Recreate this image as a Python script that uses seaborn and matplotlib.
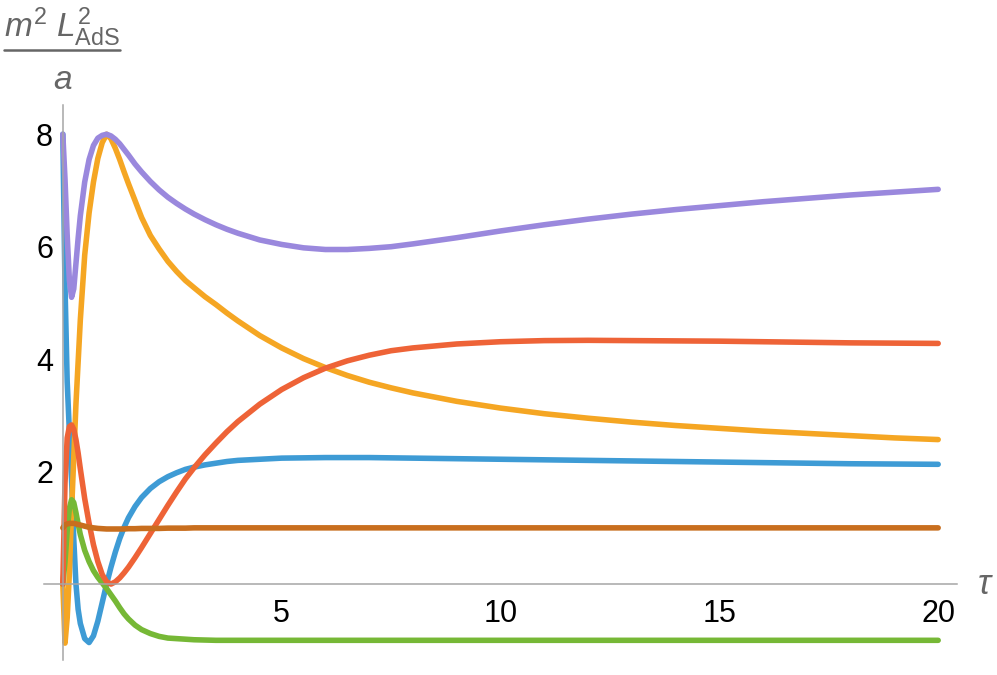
import pandas as pd
import numpy as np
import matplotlib
matplotlib.use("Agg")
import matplotlib.pyplot as plt
from matplotlib.lines import Line2D
from matplotlib.ticker import FixedLocator
import seaborn as sns

# sample times (denser at the start where the curves move fast)
tau = [0, 0.05, 0.1, 0.15, 0.2, 0.25, 0.3, 0.35, 0.4,
       0.5, 0.6, 0.7, 0.8, 0.9, 1.0,
       1.1, 1.2, 1.3, 1.4, 1.5,
       1.65, 1.8,
       2.0, 2.2, 2.4, 2.6, 2.8, 3.0,
       3.25, 3.5, 3.75, 4,
       4.5, 5, 5.5, 6, 6.5, 7, 7.5, 8,
       9, 10, 11, 12, 13, 14, 15, 16, 17, 18, 19, 20]

blue = [8.0, 5.3, 3.6, 2.7, 1.85, 0.8, 0.0, -0.45, -0.7,
        -0.97, -1.04, -0.92, -0.66, -0.33, 0.0,
        0.3, 0.57, 0.81, 1.01, 1.18,
        1.38, 1.54,
        1.7, 1.82, 1.91, 1.98, 2.04, 2.08,
        2.12, 2.15, 2.18, 2.2,
        2.22, 2.24, 2.245, 2.25, 2.25, 2.25, 2.245, 2.24,
        2.23, 2.22, 2.21, 2.2, 2.19, 2.18, 2.17, 2.16, 2.15, 2.14, 2.135, 2.13]

orange = [0.0, -1.05, -0.6, 0.2, 1.3, 2.25, 3.2, 3.95, 4.7,
          5.85, 6.6, 7.15, 7.57, 7.85, 8.0,
          7.92, 7.75, 7.55, 7.33, 7.12,
          6.82, 6.52,
          6.2, 5.96, 5.74, 5.56, 5.4, 5.27,
          5.11, 4.97, 4.82, 4.68,
          4.42, 4.2, 4.01, 3.85, 3.71, 3.59, 3.49, 3.4,
          3.25, 3.13, 3.03, 2.95, 2.88, 2.82, 2.77, 2.72, 2.68, 2.64, 2.6, 2.57]

green = [0.0, 0.4, 0.95, 1.35, 1.5, 1.45, 1.27, 1.07, 0.88,
         0.6, 0.4, 0.24, 0.12, 0.02, -0.08,
         -0.19, -0.3, -0.42, -0.53, -0.62,
         -0.73, -0.81,
         -0.88, -0.93, -0.96, -0.97, -0.98, -0.99,
         -0.995, -1.0, -1.0, -1.0,
         -1.0, -1.0, -1.0, -1.0, -1.0, -1.0, -1.0, -1.0,
         -1.0, -1.0, -1.0, -1.0, -1.0, -1.0, -1.0, -1.0, -1.0, -1.0, -1.0, -1.0]

red = [0.0, 1.8, 2.6, 2.8, 2.83, 2.75, 2.57, 2.33, 2.05,
       1.52, 1.08, 0.7, 0.4, 0.17, 0.04,
       0.0, 0.04, 0.11, 0.2, 0.3,
       0.47, 0.65,
       0.9, 1.15, 1.4, 1.64, 1.87, 2.07,
       2.3, 2.51, 2.71, 2.89,
       3.2, 3.46, 3.67, 3.84, 3.97, 4.07, 4.15, 4.2,
       4.27, 4.31, 4.33, 4.335, 4.33, 4.325, 4.32, 4.31, 4.3, 4.29, 4.285, 4.28]

purple = [8.0, 7.2, 6.2, 5.4, 5.1, 5.25, 5.7, 6.15, 6.55,
          7.15, 7.55, 7.8, 7.93, 7.98, 8.0,
          7.97, 7.91, 7.83, 7.73, 7.63,
          7.47, 7.33,
          7.16, 7.01, 6.88, 6.77, 6.67, 6.58,
          6.48, 6.39, 6.31, 6.24,
          6.12, 6.04, 5.98, 5.95, 5.95, 5.97, 6.0, 6.05,
          6.16, 6.28, 6.39, 6.49, 6.58, 6.66, 6.73, 6.8, 6.86, 6.92, 6.97, 7.02]

brown = [1.0, 1.05, 1.07, 1.08, 1.08, 1.08, 1.07, 1.06, 1.05,
         1.03, 1.01, 1.0, 0.99, 0.985, 0.98,
         0.98, 0.98, 0.98, 0.98, 0.985,
         0.985, 0.99,
         0.99, 0.99, 0.995, 0.995, 0.995, 1.0,
         1.0, 1.0, 1.0, 1.0,
         1.0, 1.0, 1.0, 1.0, 1.0, 1.0, 1.0, 1.0,
         1.0, 1.0, 1.0, 1.0, 1.0, 1.0, 1.0, 1.0, 1.0, 1.0, 1.0, 1.0]

series = {"blue": blue, "orange": orange, "green": green, "red": red,
          "purple": purple, "brown": brown}
colors = {"blue": "#3E9BD5", "orange": "#F5A623", "green": "#76B836",
          "red": "#EE6337", "purple": "#9A88DD", "brown": "#C86E1E"}

df = pd.concat([pd.DataFrame({"tau": tau, "val": v, "curve": k})
                for k, v in series.items()], ignore_index=True)

sns.set_style("white")
plt.rcParams["font.family"] = ["Liberation Sans", "DejaVu Sans"]
plt.rcParams["mathtext.fontset"] = "custom"
plt.rcParams["mathtext.rm"] = "Liberation Sans"
plt.rcParams["mathtext.it"] = "Liberation Sans:italic"

fig = plt.figure(figsize=(9.97, 6.75), dpi=100)
ax = fig.add_axes([44/997, 1-660/675, (957-44)/997, (660-105)/675])

sns.lineplot(data=df, x="tau", y="val", hue="curve", hue_order=list(series),
             palette=colors, linewidth=4.0, legend=False, sort=False, ax=ax,
             solid_capstyle="round", solid_joinstyle="round")

ax.set_xlim(-0.43, 20.43)
ax.set_ylim(-1.35, 8.52)

ax.spines["left"].set_position(("data", 0))
ax.spines["bottom"].set_position(("data", 0))
ax.spines["top"].set_visible(False)
ax.spines["right"].set_visible(False)
for s in ["left", "bottom"]:
    ax.spines[s].set_color("#A6A6A6")
    ax.spines[s].set_linewidth(1.1)

ax.xaxis.set_major_locator(FixedLocator([5, 10, 15, 20]))
ax.xaxis.set_minor_locator(FixedLocator([1, 2, 3, 4, 6, 7, 8, 9, 11, 12, 13,
                                         14, 16, 17, 18, 19]))
ax.yaxis.set_major_locator(FixedLocator([2, 4, 6, 8]))
ax.yaxis.set_minor_locator(FixedLocator([-1, -0.5, 0.5, 1, 1.5, 2.5, 3, 3.5,
                                         4.5, 5, 5.5, 6.5, 7, 7.5]))
ax.tick_params(which="both", direction="in", color="#A6A6A6", width=1)
ax.tick_params(which="major", length=8, labelsize=22, labelcolor="black")
ax.tick_params(which="minor", length=4.5)
ax.tick_params(axis="x", which="major", pad=11)
ax.tick_params(axis="y", which="major", pad=7)
ax.set_xlabel("")
ax.set_ylabel("")

gray = "#666666"
fig.text(985/997, 1-585/675, r"$\tau$", fontsize=25, color=gray,
         ha="center", va="center")
fig.text(4/997, 1-37/675, r"$m^2\ L^2_{\mathrm{AdS}}$", fontsize=24,
         color=gray, ha="left", va="baseline")
fig.add_artist(Line2D([4/997, 120/997], [1-50/675, 1-50/675],
                      color=gray, linewidth=1.8))
fig.text(63/997, 1-89/675, r"$a$", fontsize=24, color=gray,
         ha="center", va="baseline")

fig.savefig("out.png", dpi=100)
